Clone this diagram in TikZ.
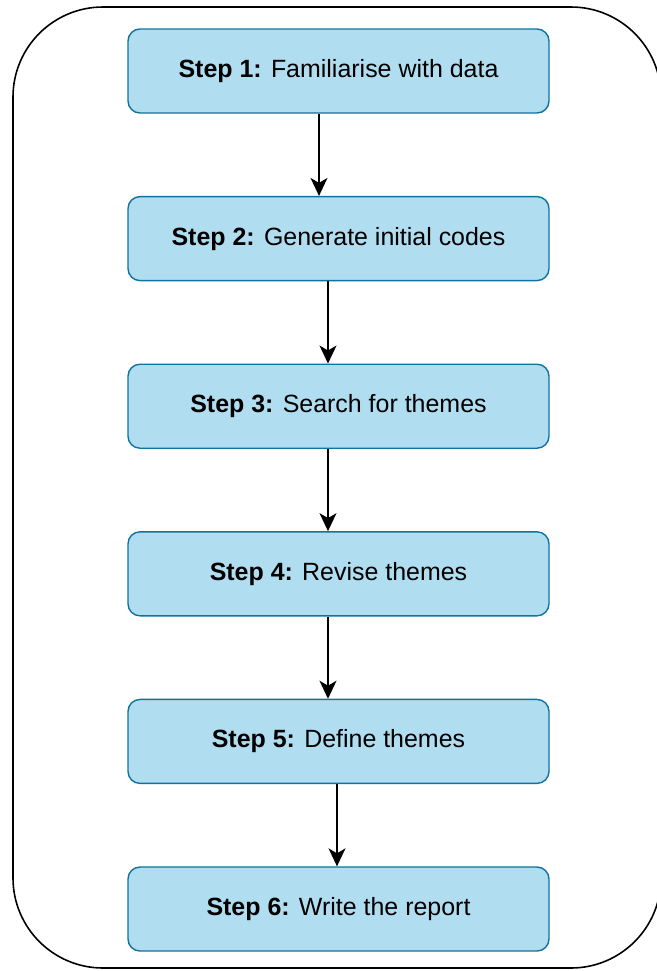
\documentclass[tikz,border=0pt]{standalone}
\usepackage{fontspec}
\setmainfont{Liberation Sans}
\usepackage{tikz}
\usetikzlibrary{positioning, arrows.meta}
\definecolor{boxfill}{HTML}{B1DDF0}
\definecolor{boxline}{HTML}{10739E}

\begin{document}
\begin{tikzpicture}[
    stepbox/.style={draw=boxline, fill=boxfill, line width=0.8pt, rounded corners=0.24cm,
        minimum width=8.42cm, minimum height=1.68cm, font=\fontsize{14.2}{17}\selectfont},
    flow/.style={line width=0.8pt, -{Stealth[length=0.36cm, width=0.34cm, inset=0.1cm]}},
    node distance=1.644cm
]
    \useasboundingbox (0,0) rectangle (13.14,-19.42);
    \draw [line width=0.9pt, rounded corners=1.8cm] (0.26,-0.14) rectangle (13.22,-19.36);

    \node (s1) [stepbox] at (6.77,-1.42) {\textbf{Step 1:} Familiarise with data};
    \node (s2) [stepbox, below=of s1] {\textbf{Step 2:} Generate initial codes};
    \node (s3) [stepbox, below=of s2] {\textbf{Step 3:} Search for themes};
    \node (s4) [stepbox, below=of s3] {\textbf{Step 4:} Revise themes};
    \node (s5) [stepbox, below=of s4] {\textbf{Step 5:} Define themes};
    \node (s6) [stepbox, below=of s5] {\textbf{Step 6:} Write the report};

    \draw [flow] ([xshift=-0.39cm]s1.south) -- ([xshift=-0.39cm]s2.north);
    \draw [flow] ([xshift=-0.21cm]s2.south) -- ([xshift=-0.21cm]s3.north);
    \draw [flow] ([xshift=-0.21cm]s3.south) -- ([xshift=-0.21cm]s4.north);
    \draw [flow] ([xshift=-0.21cm]s4.south) -- ([xshift=-0.21cm]s5.north);
    \draw [flow] ([xshift=-0.03cm]s5.south) -- ([xshift=-0.03cm]s6.north);
\end{tikzpicture}
\end{document}
